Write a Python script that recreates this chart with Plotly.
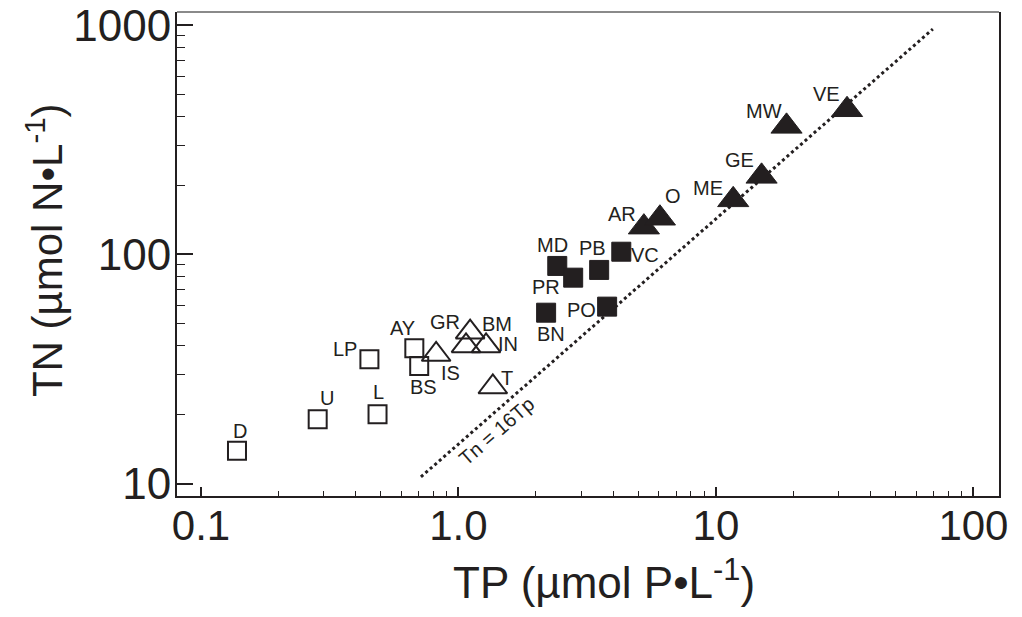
import math
import plotly.graph_objects as go

# ---------------- data ----------------
open_sq_names = ["D", "U", "L", "LP", "AY", "BS"]
open_sq_tp = [0.138, 0.284, 0.485, 0.451, 0.674, 0.704]
open_sq_tn = [13.9, 19.1, 20.1, 34.9, 39.0, 32.6]

open_tri_names = ["IS", "GR", "BM", "IN", "T"]
open_tri_tp = [0.819, 1.11, 1.07, 1.28, 1.36]
open_tri_tn = [36.6, 45.8, 39.9, 39.9, 26.4]

fill_sq_names = ["MD", "PR", "BN", "PB", "VC", "PO"]
fill_sq_tp = [2.42, 2.79, 2.19, 3.52, 4.29, 3.78]
fill_sq_tn = [89.1, 79.2, 55.7, 85.6, 102.8, 59.2]

fill_tri_names = ["AR", "O", "ME", "GE", "MW", "VE"]
fill_tri_tp = [5.25, 6.06, 11.67, 15.04, 18.8, 32.3]
fill_tri_tn = [131.6, 143.9, 173.1, 219.2, 362.2, 427.9]

# reference line Tn = 16Tp (as drawn)
line_tp = [0.715, 69.6]
line_tn = [10.7, 963.0]
line_label = "Tn = 16Tp"
line_label_at = (1.41, 16.9)

x_tickvals = [0.1, 1, 10, 100]
x_ticktext = ["0.1", "1.0", "10", "100"]
y_tickvals = [10, 100, 1000]
y_ticktext = ["10", "100", "1000"]

x_title = "TP (µmol P•L<sup>-1</sup>)"
y_title = "TN (µmol N•L<sup>-1</sup>)"

# label offsets in pixels (dx, dy up-positive)
label_offsets = {
    "D": (3, 20), "U": (9, 21), "L": (1, 22), "LP": (-24, 10), "AY": (-12, 20), "BS": (4, -21),
    "IS": (14, -19), "GR": (-25, 10), "BM": (31, 22), "IN": (22, 2), "T": (14, 9),
    "MD": (-5, 21), "PR": (-27, -9), "BN": (5, -21), "PB": (-7, 22), "VC": (24, -3), "PO": (-26, -3),
    "AR": (-22, 13), "O": (13, 22), "ME": (-25, 12), "GE": (-22, 16), "MW": (-23, 15), "VE": (-21, 16),
}

INK = "#231f20"
FONT = "Liberation Sans, Arial, sans-serif"

fig = go.Figure()

fig.add_trace(go.Scatter(
    x=line_tp, y=line_tn, mode="lines",
    line=dict(color=INK, width=3, dash="dot"), hoverinfo="skip", showlegend=False))

fig.add_trace(go.Scatter(
    x=open_sq_tp, y=open_sq_tn, mode="markers",
    marker=dict(symbol="square-open", size=18, color=INK, line=dict(width=2, color=INK)),
    showlegend=False))
fig.add_trace(go.Scatter(
    x=open_tri_tp, y=open_tri_tn, mode="markers",
    marker=dict(symbol="triangle-up-open", size=25, color=INK, line=dict(width=2, color=INK)),
    showlegend=False))
fig.add_trace(go.Scatter(
    x=fill_sq_tp, y=fill_sq_tn, mode="markers",
    marker=dict(symbol="square", size=19, color=INK, line=dict(width=1, color=INK)),
    showlegend=False))
fig.add_trace(go.Scatter(
    x=fill_tri_tp, y=fill_tri_tn, mode="markers",
    marker=dict(symbol="triangle-up", size=27, color=INK, line=dict(width=1, color=INK)),
    showlegend=False))

label_font = dict(family=FONT, size=20, color=INK)
for names, xs, ys in [(open_sq_names, open_sq_tp, open_sq_tn),
                      (open_tri_names, open_tri_tp, open_tri_tn),
                      (fill_sq_names, fill_sq_tp, fill_sq_tn),
                      (fill_tri_names, fill_tri_tp, fill_tri_tn)]:
    for n, xv, yv in zip(names, xs, ys):
        dx, dy = label_offsets[n]
        fig.add_annotation(x=math.log10(xv), y=math.log10(yv), xref="x", yref="y", text=n,
                           showarrow=False, xshift=dx, yshift=dy, font=label_font)

# line label
fig.add_annotation(x=math.log10(line_label_at[0]), y=math.log10(line_label_at[1]),
                   xref="x", yref="y", text=line_label, showarrow=False,
                   textangle=-41, font=dict(family=FONT, size=20, color=INK))

# axis titles
fig.add_annotation(x=0.519, y=-0.172, xref="paper", yref="paper", text=x_title, showarrow=False,
                   xanchor="center", yanchor="middle", font=dict(family=FONT, size=44, color=INK))
fig.add_annotation(x=-0.1606, y=0.508, xref="paper", yref="paper", text=y_title, showarrow=False,
                   textangle=-90, xanchor="center", yanchor="middle",
                   font=dict(family=FONT, size=42, color=INK))

x_minor = [m * d for d in (0.1, 1, 10) for m in range(2, 10)]
y_minor = [m * d for d in (10, 100) for m in range(2, 10)]

fig.update_xaxes(
    type="log", range=[-1.0931, 2.0994],
    tickmode="array", tickvals=x_tickvals, ticktext=x_ticktext,
    ticks="inside", ticklen=9, tickwidth=1.5, tickcolor=INK,
    minor=dict(tickmode="array", tickvals=x_minor, ticks="inside", ticklen=5, tickwidth=1,
               tickcolor=INK, showgrid=False),
    showline=True, linecolor=INK, linewidth=2, mirror=False,
    showgrid=False, zeroline=False,
    tickfont=dict(family=FONT, size=42, color=INK),
    ticklabelstandoff=-8,
)
fig.update_yaxes(
    type="log", range=[0.946, 3.058],
    tickmode="array", tickvals=y_tickvals, ticktext=y_ticktext,
    ticks="inside", ticklen=16, tickwidth=1.5, tickcolor=INK,
    minor=dict(tickmode="array", tickvals=y_minor, ticks="inside", ticklen=8, tickwidth=1,
               tickcolor=INK, showgrid=False),
    showline=True, linecolor=INK, linewidth=2, mirror=True,
    showgrid=False, zeroline=False,
    tickfont=dict(family=FONT, size=44, color=INK),
    ticklabelstandoff=-5,
)

fig.add_shape(type="line", xref="paper", yref="paper", x0=0, x1=1, y0=1, y1=1,
              line=dict(color="#8a8a8a", width=2))

fig.update_layout(
    width=1022, height=617,
    margin=dict(l=177, r=23, t=12, b=121, autoexpand=False),
    paper_bgcolor="white", plot_bgcolor="white",
    font=dict(family=FONT, color=INK),
)

fig.write_html("out.html", config={"displayModeBar": False},
               post_script="document.body.style.margin='0px';document.body.style.overflow='hidden';")
